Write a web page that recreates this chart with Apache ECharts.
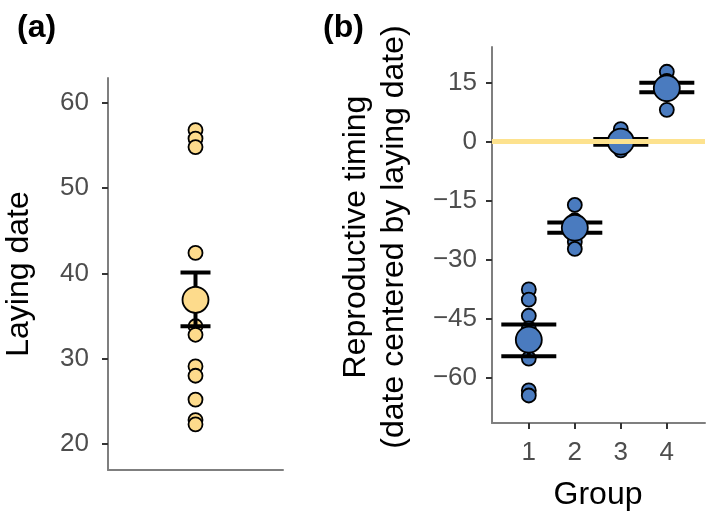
<!DOCTYPE html>
<html>
<head>
<meta charset="utf-8">
<title>Laying date / reproductive timing</title>
<script src="https://cdn.jsdelivr.net/npm/echarts@6/dist/echarts.min.js"></script>
<style>
  html, body { margin: 0; padding: 0; background: #fff; }
  #main { width: 709px; height: 518px; }
</style>
</head>
<body>
<div id="main"></div>
<script>
var dom = document.getElementById("main");
var myChart = echarts.init(dom);

// panel (a): laying dates of all birds, with mean and error bar
var layingDates = [56.8, 55.8, 54.8, 42.4, 37.6, 33.8, 32.8, 29.1, 28.0, 25.2, 22.8, 22.3];
var layingMean = [36.9];
var layingLower = [33.8];
var layingUpper = [40.1];
var layingTicks = [20, 30, 40, 50, 60];

// panel (b): reproductive timing per group
var groups = [1, 2, 3, 4];
var groupPoints = [
    [-37.6, -40.2, -44.3, -47.5, -55.2, -63.3, -64.6],
    [-16.1, -20.0, -21.0, -21.5, -25.5, -27.3],
    [3.2, 1.0, 0.0, -0.5, -1.5, -2.2],
    [17.8, 15.5, 14.5, 13.5, 12.2, 8.1]
];
var groupMeans = [-50.4, -21.9, 0.0, 13.6];
var groupLower = [-54.6, -23.2, -0.8, 12.6];
var groupUpper = [-46.5, -20.6, 0.7, 15.0];
var timingTicks = [-60, -45, -30, -15, 0, 15];

////////////////////////////////////////

var font = "'Liberation Sans', Arial, sans-serif";
var yellow = '#FDDB8C';
var blue = '#4A7BBF';

var aPoints = layingDates.map(function (v) { return [1, v]; });
var aMean = [[1, layingMean[0]]];
var aBar = [[1, layingLower[0], layingUpper[0]]];

var bPoints = [];
groups.forEach(function (g, i) {
    groupPoints[i].forEach(function (v) { bPoints.push([g, v]); });
});
var bMean = groups.map(function (g, i) { return [g, groupMeans[i]]; });
var bBar = groups.map(function (g, i) { return [g, groupLower[i], groupUpper[i]]; });

function errorBar(halfWidth) {
    return function (params, api) {
        var x = api.value(0);
        var lo = api.coord([x, api.value(1)]);
        var hi = api.coord([x, api.value(2)]);
        var st = { stroke: '#000', lineWidth: 4 };
        return {
            type: 'group',
            children: [
                { type: 'line', shape: { x1: lo[0], y1: lo[1], x2: hi[0], y2: hi[1] }, style: st },
                { type: 'line', shape: { x1: lo[0] - halfWidth, y1: lo[1], x2: lo[0] + halfWidth, y2: lo[1] }, style: st },
                { type: 'line', shape: { x1: hi[0] - halfWidth, y1: hi[1], x2: hi[0] + halfWidth, y2: hi[1] }, style: st }
            ]
        };
    };
}

var axisLine = { show: true, onZero: false, lineStyle: { color: '#7f7f7f', width: 2 } };
var axisTick = { show: true, length: 6, lineStyle: { color: '#333', width: 2 } };
var labelStyle = { color: '#4D4D4D', fontSize: 26, fontFamily: font };

function minus(v) { return String(v).replace('-', '\u2212'); }

var option = {
    animation: false,
    backgroundColor: '#fff',
    grid: [
        { left: 108, top: 78, width: 175, height: 392 },
        { left: 492, top: 47, width: 213, height: 376 }
    ],
    xAxis: [
        { gridIndex: 0, type: 'value', min: 0, max: 2, axisLine: axisLine,
          axisTick: { show: false }, axisLabel: { show: false }, splitLine: { show: false } },
        { gridIndex: 1, type: 'value', min: 0.2, max: 4.83, axisLine: axisLine,
          axisTick: Object.assign({ customValues: groups }, axisTick),
          axisLabel: Object.assign({ customValues: groups, margin: 17 }, labelStyle),
          splitLine: { show: false } }
    ],
    yAxis: [
        { gridIndex: 0, type: 'value', min: 16.95, max: 62.9, axisLine: axisLine,
          axisTick: Object.assign({ customValues: layingTicks }, axisTick),
          axisLabel: Object.assign({ customValues: layingTicks, margin: 19 }, labelStyle),
          splitLine: { show: false } },
        { gridIndex: 1, type: 'value', min: -71.6, max: 24.1, axisLine: axisLine,
          axisTick: Object.assign({ customValues: timingTicks }, axisTick),
          axisLabel: Object.assign({ customValues: timingTicks, margin: 15, formatter: minus }, labelStyle),
          splitLine: { show: false } }
    ],
    graphic: [
        { type: 'text', x: 17, y: 28, style: { text: '(a)', fontSize: 32, fontWeight: 'bold',
          fontFamily: font, fill: '#000', textAlign: 'left', textVerticalAlign: 'middle' } },
        { type: 'text', x: 323, y: 28, style: { text: '(b)', fontSize: 32, fontWeight: 'bold',
          fontFamily: font, fill: '#000', textAlign: 'left', textVerticalAlign: 'middle' } },
        { type: 'text', x: 19, y: 274, rotation: Math.PI / 2, style: { text: 'Laying date', fontSize: 32,
          fontFamily: font, fill: '#000', textAlign: 'center', textVerticalAlign: 'middle' } },
        { type: 'text', x: 375, y: 237, rotation: Math.PI / 2, style: {
          text: 'Reproductive timing\n(date centered by laying date)', fontSize: 32, lineHeight: 38,
          fontFamily: font, fill: '#000', textAlign: 'center', textVerticalAlign: 'middle' } },
        { type: 'text', x: 598, y: 495, style: { text: 'Group', fontSize: 32,
          fontFamily: font, fill: '#000', textAlign: 'center', textVerticalAlign: 'middle' } }
    ],
    series: [
        // zero reference line in panel b
        { type: 'scatter', xAxisIndex: 1, yAxisIndex: 1, data: [], z: 1,
          markLine: { silent: true, symbol: 'none', label: { show: false },
            lineStyle: { color: '#FDE28E', width: 5, type: 'solid' },
            data: [{ yAxis: 0 }] } },
        { type: 'scatter', xAxisIndex: 0, yAxisIndex: 0, data: aPoints, symbolSize: 14, z: 2,
          itemStyle: { color: yellow, borderColor: '#000', borderWidth: 1.8, opacity: 1 } },
        { type: 'custom', xAxisIndex: 0, yAxisIndex: 0, data: aBar, z: 3,
          renderItem: errorBar(15) },
        { type: 'scatter', xAxisIndex: 0, yAxisIndex: 0, data: aMean, symbolSize: 26, z: 4,
          itemStyle: { color: yellow, borderColor: '#000', borderWidth: 1.8, opacity: 1 } },
        { type: 'scatter', xAxisIndex: 1, yAxisIndex: 1, data: bPoints, symbolSize: 14, z: 2,
          itemStyle: { color: blue, borderColor: '#000', borderWidth: 1.8, opacity: 1 } },
        { type: 'custom', xAxisIndex: 1, yAxisIndex: 1, data: bBar, z: 3,
          renderItem: errorBar(27.5) },
        { type: 'scatter', xAxisIndex: 1, yAxisIndex: 1, data: bMean, symbolSize: 26, z: 4,
          itemStyle: { color: blue, borderColor: '#000', borderWidth: 1.8, opacity: 1 } }
    ]
};
if (option && typeof option === "object") {
    myChart.setOption(option, true);
}
window.addEventListener("resize", function () {
    myChart.resize();
})
</script>
</body>
</html>
